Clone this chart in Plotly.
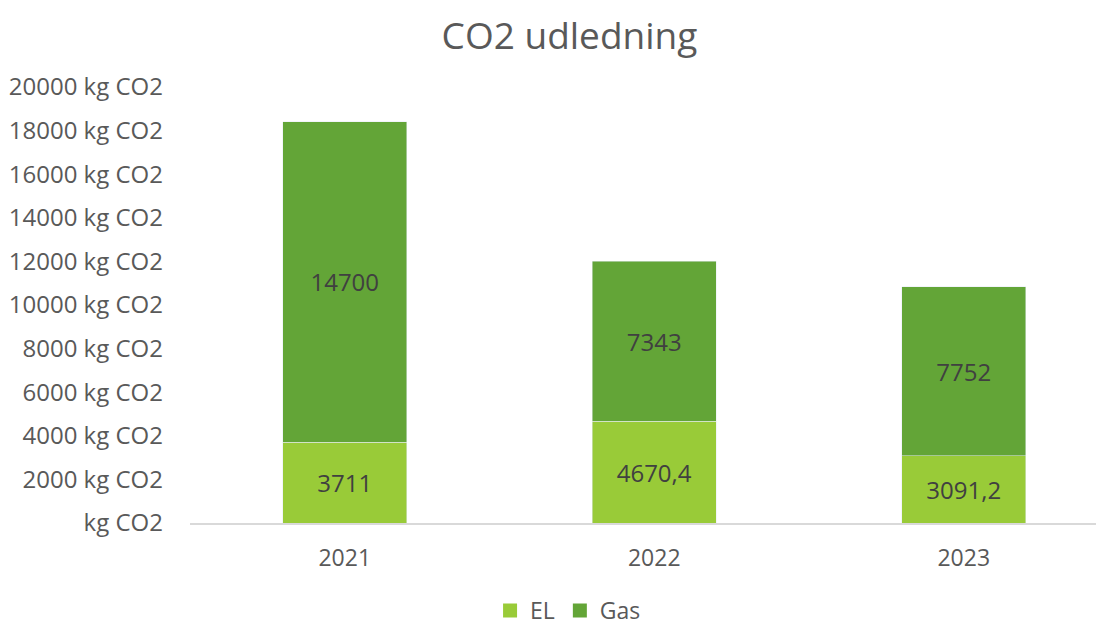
import plotly.graph_objects as go

years = ["2021", "2022", "2023"]
el = [3711, 4670.4, 3091.2]
gas = [14700, 7343, 7752]
series_names = ["EL", "Gas"]
series_colors = ["#99CB38", "#63A537"]
y_ticks = [0, 2000, 4000, 6000, 8000, 10000, 12000, 14000, 16000, 18000, 20000]
y_ticktext = ["kg CO2"] + [f"{v} kg CO2" for v in y_ticks[1:]]

def fmt(v):
    s = f"{v:g}"
    return s.replace(".", ",")

fig = go.Figure()
for name, vals, col in zip(series_names, [el, gas], series_colors):
    fig.add_trace(go.Bar(x=years, y=vals, name=name, marker_color=col,
                         text=[fmt(v) for v in vals], textposition="inside",
                         insidetextanchor="middle", showlegend=False,
                         textfont=dict(size=24, color="#404040"), textangle=0))
for name, col in zip(series_names, series_colors):
    fig.add_trace(go.Scatter(x=[None], y=[None], mode="markers", name=name,
                             marker=dict(symbol="square", size=14, color=col)))

fig.update_layout(
    barmode="stack",
    bargap=0.6,
    width=1096, height=618,
    autosize=False,
    margin=dict(l=182, r=1, t=79, b=103, autoexpand=False),
    paper_bgcolor="white", plot_bgcolor="white",
    font=dict(family="Open Sans", size=24, color="#595959"),
    title=dict(text="CO2 udledning", x=0.5123, xanchor="center", xref="container",
               y=0.954, yanchor="middle", yref="container",
               font=dict(size=37, color="#595959")),
    legend=dict(orientation="h", x=0.5110, xanchor="center", xref="container",
                y=0.025, yanchor="middle", yref="container",
                font=dict(size=23, color="#595959"),
                traceorder="normal", itemwidth=30),
    xaxis=dict(type="category", range=[-0.5, 2.45], showline=True, linecolor="#D9D9D9",
               linewidth=2, showgrid=False, ticks="", tickfont=dict(size=23, color="#595959"),
               ticklabelstandoff=13, automargin=False),
    yaxis=dict(range=[0, 20000], tickvals=y_ticks, ticktext=y_ticktext, showgrid=False,
               zeroline=False, showline=False, ticks="", ticklabelstandoff=26,
               tickfont=dict(size=24, color="#595959"), automargin=False),
)

fig.write_html("out.html")
